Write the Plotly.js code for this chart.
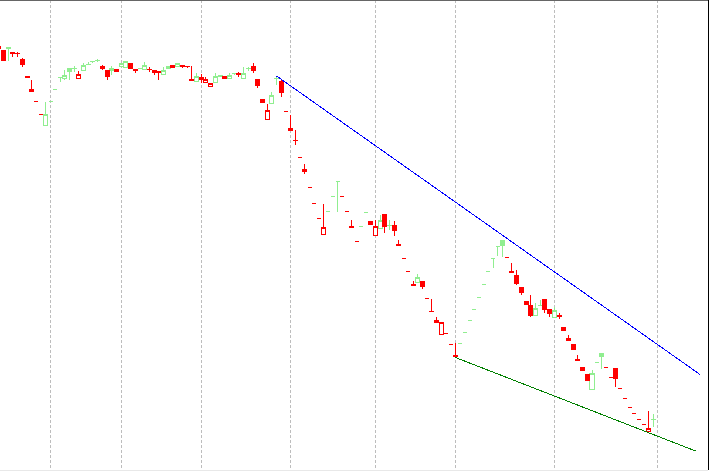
<!DOCTYPE html>
<html>
<head>
<meta charset="utf-8">
<script src="https://cdn.plot.ly/plotly-3.0.1.min.js"></script>
<style>
  html, body { margin: 0; padding: 0; background: #ffffff; }
  #chart { width: 709px; height: 472px; }
  #chart svg path { shape-rendering: crispEdges; }
</style>
</head>
<body>
<div id="chart"></div>
<script>
// Session-by-session OHLC values (140 sessions)
const open = [45.40,45.00,45.13,44.73,44.67,44.10,42.40,41.10,39.90,38.55,
  37.43,39.90,41.07,42.27,42.17,43.17,43.15,42.17,43.00,43.58,
  43.81,43.98,43.40,43.00,42.93,42.83,43.33,43.27,43.67,43.07,
  43.17,43.07,43.09,43.00,42.82,42.60,43.17,43.50,43.40,43.45,
  43.37,42.10,41.90,42.25,41.77,41.40,41.77,42.50,42.33,42.17,
  42.65,42.62,42.17,43.15,43.40,42.07,40.07,38.07,39.67,42.15,
  41.83,38.87,36.93,35.95,34.27,33.03,31.27,29.67,28.17,26.57,
  28.87,30.35,31.83,30.40,28.87,27.40,25.90,27.40,28.77,27.90,
  26.43,27.17,28.60,27.42,27.50,25.52,24.17,22.90,21.60,21.73,
  21.90,20.17,18.85,18.00,16.57,16.67,15.60,14.50,15.67,16.77,
  18.00,19.07,20.27,21.57,22.90,24.13,25.33,26.00,24.27,22.90,
  22.50,21.27,19.90,19.50,18.43,19.48,20.07,19.07,18.27,18.42,
  17.23,16.15,15.60,14.10,13.27,12.60,11.07,13.77,14.67,13.27,
  12.23,13.17,11.17,10.17,9.27,8.63,8.10,7.60,6.87,8.05];

const high = [45.45,45.00,45.30,44.83,44.80,44.20,42.43,42.00,39.90,38.55,
  39.83,39.90,41.07,42.27,43.00,43.17,43.40,42.93,43.73,43.77,
  43.93,44.10,43.50,43.00,43.40,43.10,43.67,43.83,43.67,43.07,
  43.17,43.77,43.27,43.00,42.83,43.33,43.40,43.50,43.75,43.47,
  43.40,43.40,42.67,42.60,42.27,41.67,42.67,42.50,42.33,42.73,
  42.73,42.83,43.33,43.30,43.67,42.10,40.07,39.65,40.83,42.40,
  42.00,38.87,38.50,37.00,34.27,33.57,31.27,29.67,28.17,29.57,
  28.87,30.35,31.83,30.40,28.87,28.00,25.90,27.40,28.77,27.90,
  28.00,28.50,28.60,28.00,27.93,26.00,24.17,22.90,21.90,22.60,
  21.90,20.17,20.10,18.33,17.77,16.67,15.60,15.67,15.67,16.77,
  18.00,19.07,20.27,21.57,22.90,24.13,25.33,26.00,24.27,23.67,
  23.00,21.27,19.90,20.50,19.67,20.00,20.07,19.07,19.27,18.67,
  17.23,16.50,15.60,14.50,13.27,12.60,13.00,13.77,14.67,13.27,
  12.23,13.17,11.17,10.17,9.27,8.63,8.10,7.60,8.90,8.60];

const low = [45.10,43.93,43.93,44.33,44.27,43.27,42.20,40.90,39.90,38.55,
  37.43,39.90,41.07,41.83,42.00,42.00,42.83,42.17,43.00,43.50,
  43.67,43.77,43.00,42.00,42.50,42.83,43.33,43.27,43.07,42.73,
  43.17,43.07,42.83,42.50,42.00,42.60,43.17,43.27,43.40,43.17,
  43.17,41.93,41.90,41.67,41.77,41.40,41.77,42.33,42.17,42.17,
  42.50,42.33,42.17,42.90,42.73,41.17,39.67,38.07,39.67,41.50,
  40.27,38.87,36.93,35.50,34.27,32.60,31.27,29.67,28.17,26.57,
  28.87,30.35,28.83,30.40,28.87,27.25,25.90,27.40,28.77,27.57,
  26.43,27.17,26.73,27.00,26.43,25.43,24.17,22.90,21.43,21.73,
  21.07,20.17,18.83,17.80,16.57,16.67,15.60,14.25,15.67,16.77,
  18.00,19.07,20.27,21.57,22.90,23.17,24.43,24.27,24.27,22.73,
  21.50,20.50,19.57,18.33,18.43,19.40,18.67,18.27,18.27,18.07,
  17.00,15.93,15.00,13.93,12.93,12.00,11.07,13.77,13.10,13.27,
  12.23,11.27,11.17,10.17,9.27,8.63,8.10,7.60,6.87,7.27];

const close = [45.17,43.93,45.27,44.70,44.64,43.60,42.23,40.90,39.90,38.55,
  38.60,39.90,41.07,42.27,42.50,42.83,43.17,42.60,43.50,43.60,
  43.83,44.00,43.20,42.33,43.15,43.10,43.67,43.83,43.17,42.93,
  43.17,43.50,43.07,42.73,42.71,43.00,43.33,43.27,43.67,43.40,
  43.33,41.93,42.40,42.10,42.04,41.67,42.32,42.37,42.17,42.50,
  42.67,42.60,42.67,43.17,43.00,41.50,39.73,39.00,40.50,42.17,
  40.73,38.87,37.17,35.93,34.27,32.83,31.27,29.67,28.17,27.27,
  28.87,30.35,31.83,30.40,28.87,27.25,25.90,27.40,28.77,27.57,
  27.40,28.00,27.40,27.45,26.93,25.50,24.17,22.90,21.43,22.27,
  21.33,20.17,18.83,17.80,17.77,16.67,15.60,14.33,15.67,16.77,
  18.00,19.07,20.27,21.57,22.90,24.13,25.33,25.50,24.27,22.73,
  21.67,20.73,19.57,18.50,19.17,19.50,19.07,18.67,18.93,18.40,
  17.00,15.93,15.10,13.93,13.00,12.00,12.67,13.77,14.33,13.27,
  12.23,12.17,11.17,10.17,9.27,8.63,8.10,7.60,7.17,8.07];

// Sessions carrying a vertical grid line
const gridSessions = [11, 26, 43, 62, 80, 97, 118, 140];

// Trend lines (session, price)
const upperTrendX = [59, 149];
const upperTrendY = [42.40, 12.53];
const lowerTrendX = [97, 148];
const lowerTrendY = [14.25, 4.90];

const GREEN = '#90ee90';
const RED = '#ff0000';

const session = open.map((_, i) => i);

// Colour by close versus previous close; fill by close versus open
const up = { x: [], open: [], high: [], low: [], close: [] };
const dn = { x: [], open: [], high: [], low: [], close: [] };
for (let i = 0; i < session.length; i++) {
  const rising = i === 0 ? close[i] > open[i] : close[i] > close[i - 1];
  const t = rising ? up : dn;
  t.x.push(session[i]); t.open.push(open[i]); t.high.push(high[i]);
  t.low.push(low[i]); t.close.push(close[i]);
}

function candle(d, color) {
  return {
    type: 'candlestick',
    x: d.x, open: d.open, high: d.high, low: d.low, close: d.close,
    whiskerwidth: 0,
    increasing: { line: { color: color, width: 1 }, fillcolor: '#ffffff' },
    decreasing: { line: { color: color, width: 1 }, fillcolor: color },
    hoverinfo: 'skip',
    showlegend: false
  };
}

const data = [
  candle(up, GREEN),
  candle(dn, RED),
  { type: 'scatter', mode: 'lines', x: upperTrendX, y: upperTrendY,
    line: { color: '#0000ff', width: 1 }, hoverinfo: 'skip', showlegend: false },
  { type: 'scatter', mode: 'lines', x: lowerTrendX, y: lowerTrendY,
    line: { color: '#008000', width: 1 }, hoverinfo: 'skip', showlegend: false }
];

const layout = {
  width: 709, height: 472,
  margin: { l: 0, r: 1, t: 0, b: 2, pad: 0 },
  paper_bgcolor: '#ffffff',
  plot_bgcolor: '#ffffff',
  showlegend: false,
  boxgap: 0.15,
  boxgroupgap: 0,
  xaxis: {
    type: 'linear',
    range: [0.2566, 150.64],
    tickvals: gridSessions,
    showticklabels: false,
    ticks: '',
    showgrid: true,
    gridcolor: '#bdbdbd',
    gridwidth: 1,
    griddash: '3px,2px',
    zeroline: false,
    showline: false,
    rangeslider: { visible: false },
    fixedrange: true
  },
  yaxis: {
    range: [3.0, 50.0],
    showticklabels: false,
    ticks: '',
    showgrid: false,
    zeroline: false,
    showline: false,
    fixedrange: true
  },
  shapes: [
    { type: 'line', xref: 'paper', yref: 'paper', x0: 0, x1: 1, y0: 1 - 0.5 / 470, y1: 1 - 0.5 / 470,
      line: { color: '#666666', width: 1 } },
    { type: 'line', xref: 'paper', yref: 'paper', x0: 0, x1: 1, y0: -0.5 / 470, y1: -0.5 / 470,
      line: { color: '#e8e8e8', width: 1 } },
    { type: 'line', xref: 'paper', yref: 'paper', x0: 1 + 0.5 / 708, x1: 1 + 0.5 / 708, y0: 0, y1: 1,
      line: { color: '#000000', width: 1 } }
  ]
};

Plotly.newPlot('chart', data, layout, { displayModeBar: false, staticPlot: true });
</script>
</body>
</html>
